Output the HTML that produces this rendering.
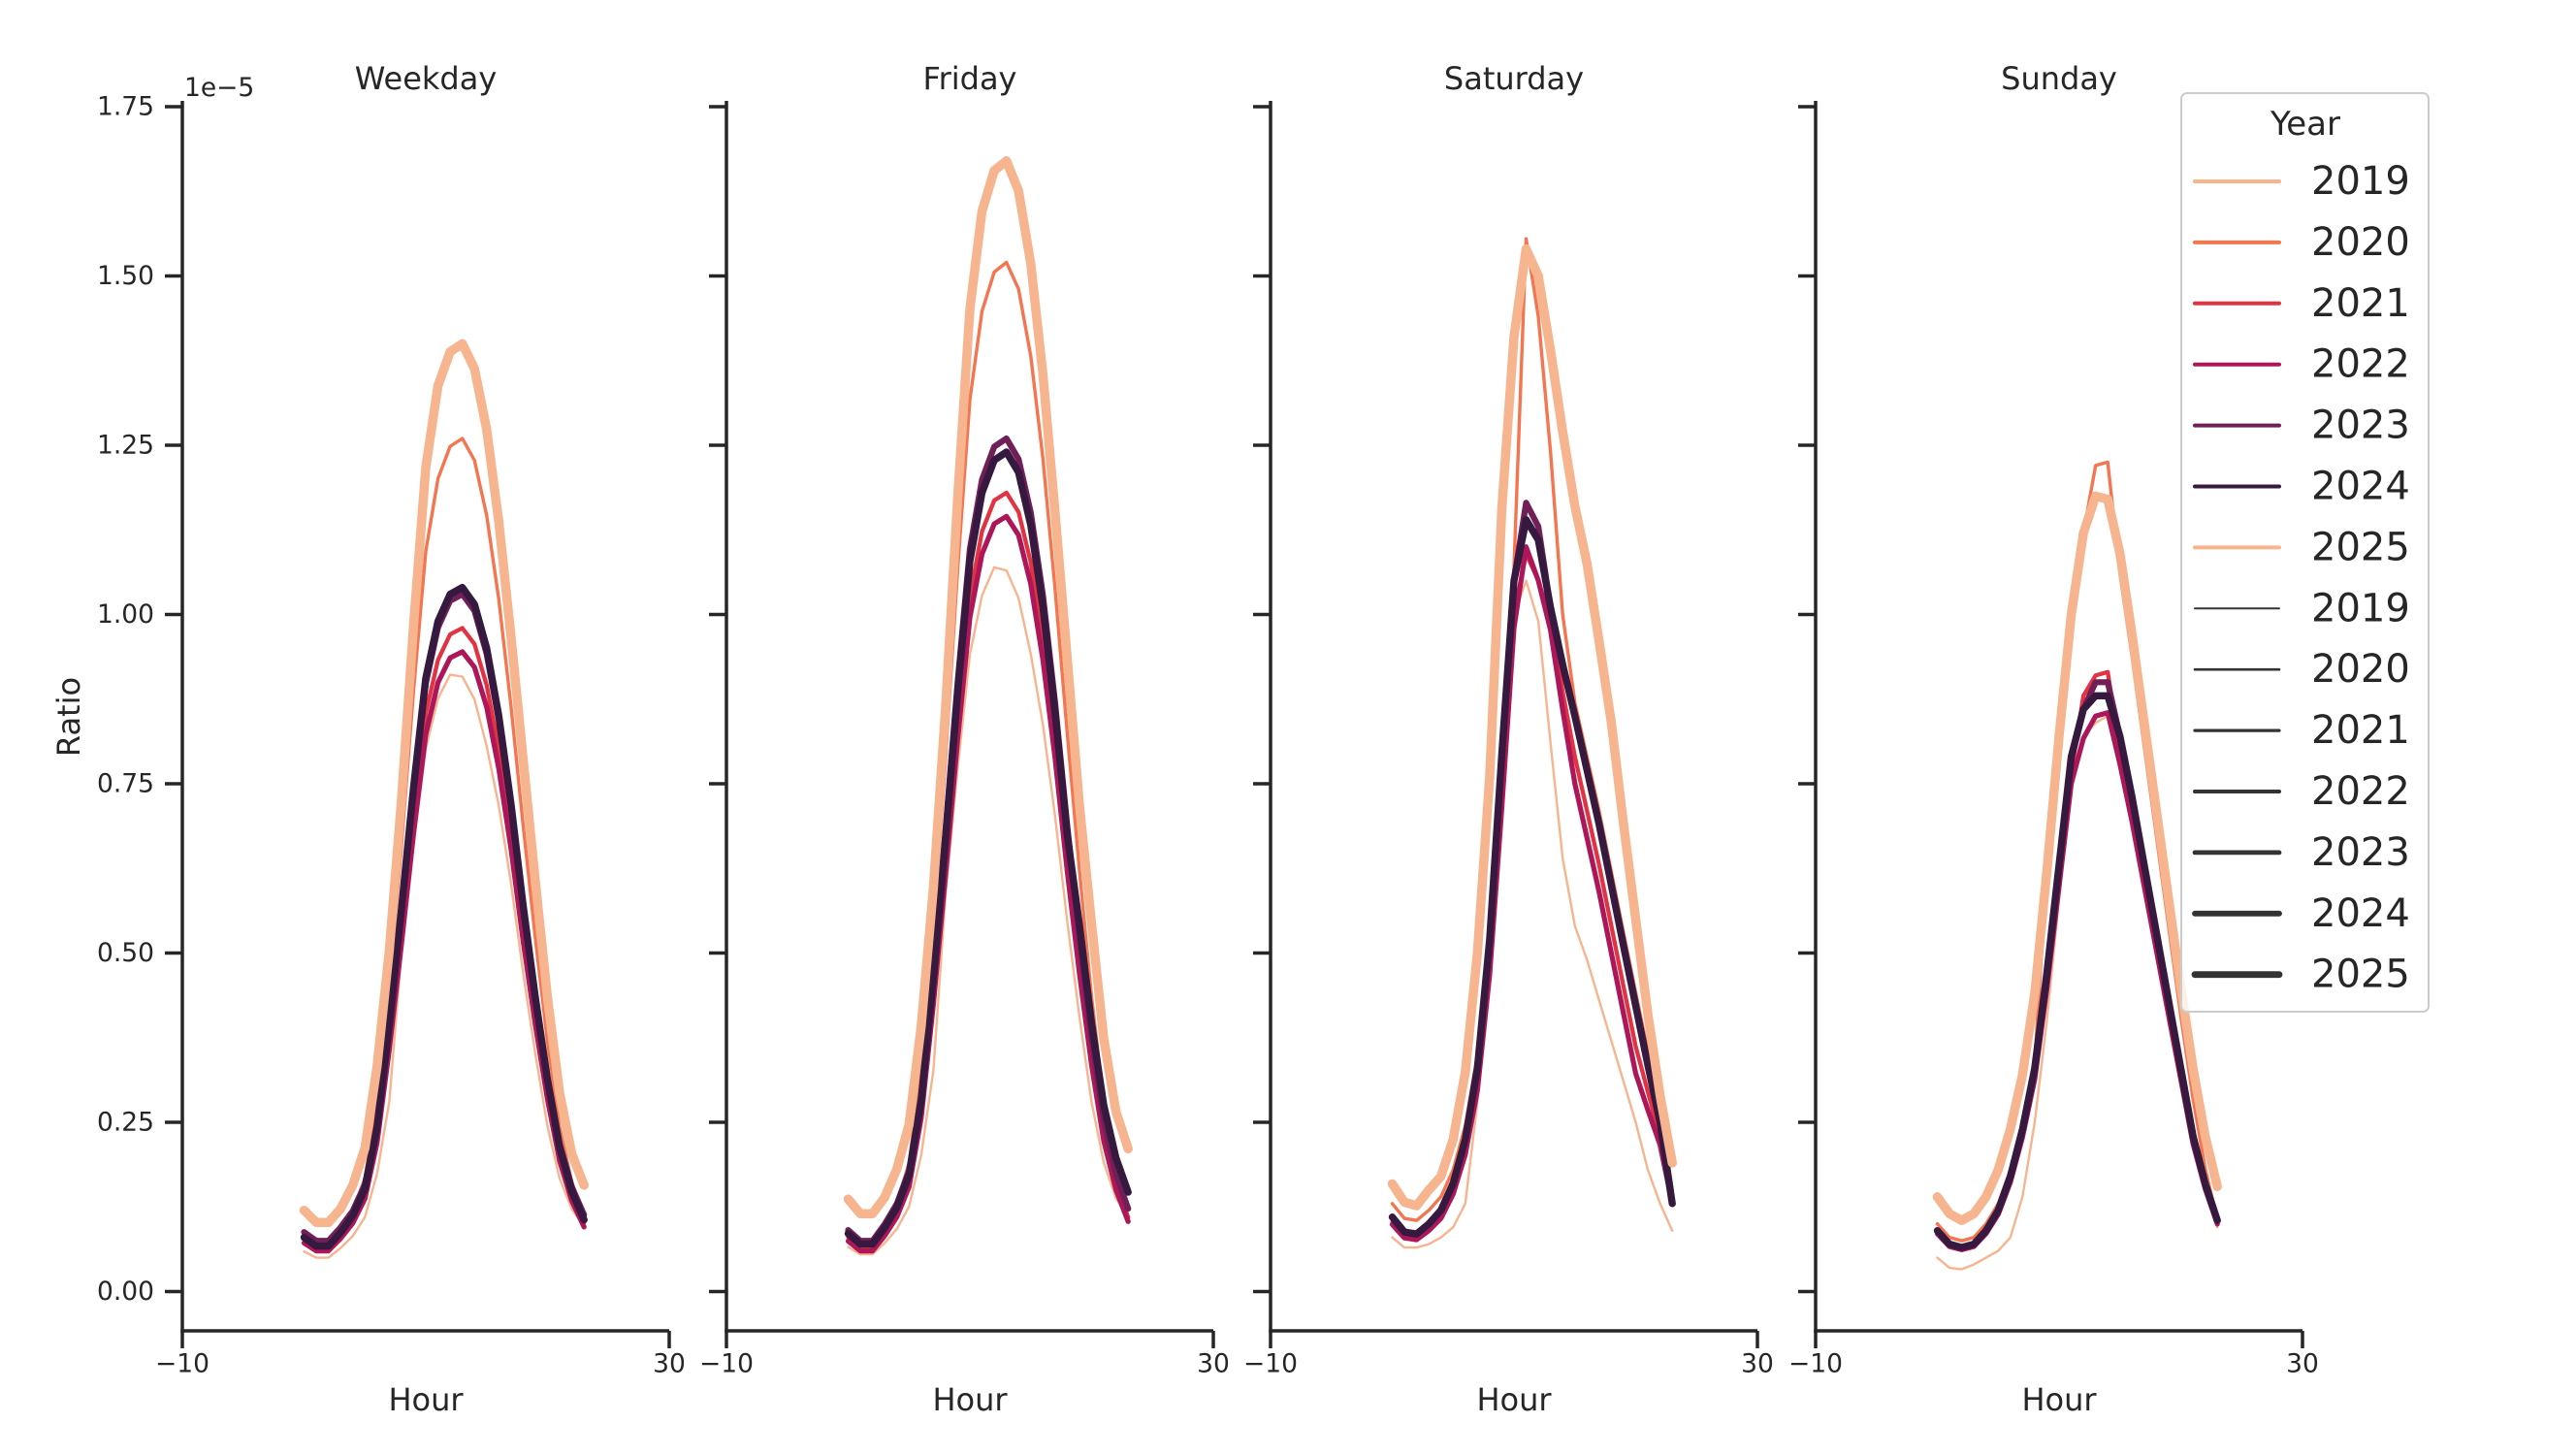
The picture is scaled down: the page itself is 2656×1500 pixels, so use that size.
<!DOCTYPE html>
<html><head><meta charset="utf-8">
<style>
html,body{margin:0;padding:0;background:#fff;}
svg{display:block;}
text{font-family:"DejaVu Sans","Liberation Sans",sans-serif;fill:#262626;}
</style></head>
<body>
<svg id="s" width="2656" height="1500" viewBox="0 0 2656 1500" xmlns="http://www.w3.org/2000/svg"></svg>
<script>
const X0=[188,749,1310,1872];
const hx=(p,h)=>X0[p]+(h+10)*12.55;
const vy=v=>1331.5-v*698;
const C=['#f6b48f','#f37651','#e13342','#ad1759','#701f57','#35193e','#f6b48f'];
const W=[2.4,3.4,4.3,5.2,6.2,7.4,9.5];
function norm(a){const mn=Math.min(...a),mx=Math.max(...a);return a.map(v=>(v-mn)/(mx-mn));}
function make(a,lo,hi){return norm(a).map(g=>lo+(hi-lo)*g);}
function avg(a,b){const na=norm(a),nb=norm(b);return na.map((v,i)=>(v+nb[i])/2);}
const taper=(i)=>i<=12?0:i<15?(i-12)/3:i<=20?1:(23-i)/3*0.6+0.4*(23-i)/3;
// Weekday
const Dwd=[0.080,0.067,0.067,0.087,0.112,0.152,0.243,0.394,0.565,0.746,0.906,0.99,1.03,1.04,1.015,0.95,0.85,0.72,0.57,0.434,0.313,0.213,0.148,0.106];
const Pwd=[0.12,0.102,0.102,0.122,0.157,0.212,0.333,0.504,0.725,0.986,1.217,1.338,1.388,1.40,1.363,1.273,1.137,0.967,0.786,0.605,0.434,0.293,0.203,0.157];
const Awd=avg(Dwd,Pwd);
const thinShape=Dwd.map((v,i)=>i<8?v*0.8:v);
const wd=[make(thinShape,0.05,0.92).map((v,i)=>v-0.035*taper(i)),make(Awd,0.065,1.26),make(Dwd,0.065,0.98),make(Dwd,0.06,0.945),make(Dwd,0.075,1.03),Dwd,Pwd];
// Friday
const fr=[make(thinShape,0.055,1.08).map((v,i)=>v-0.045*taper(i)),make(Awd,0.065,1.52),make(Dwd,0.065,1.18),make(Dwd,0.06,1.145),make(Dwd,0.075,1.26),make(Dwd,0.07,1.24).map((v,i)=>i>18?v+0.03:v),make(Pwd,0.115,1.67).map((v,i)=>i>19?v+0.03:v)];
// Saturday
const Dsa=[0.11,0.088,0.085,0.10,0.12,0.16,0.225,0.33,0.52,0.795,1.05,1.14,1.11,1.01,0.926,0.85,0.77,0.69,0.60,0.51,0.422,0.335,0.25,0.13];
const Psa=[0.159,0.132,0.127,0.15,0.17,0.225,0.324,0.50,0.76,1.157,1.41,1.54,1.50,1.39,1.27,1.16,1.075,0.96,0.84,0.69,0.55,0.41,0.29,0.19];
const sa=[
 [0.08,0.065,0.065,0.07,0.08,0.095,0.13,0.28,0.55,0.80,1.0,1.05,0.99,0.81,0.64,0.54,0.49,0.43,0.37,0.31,0.25,0.18,0.13,0.09],
 Dsa.map((v,i)=>i===11?1.555:i===12?1.44:i===13?1.24:i===14?1.0:i===15?0.87:v+0.02),
 Dsa.map((v,i)=>i<10?v*0.93:i===10?1.0:i===11?1.09:i===12?1.05:v-0.06*taper(i)),
 Dsa.map((v,i)=>i<10?v*0.9:i===10?0.98:i===11?1.10:i===12?1.05:v-0.10*taper(i)),
 Dsa.map((v,i)=>i===11?1.165:i===12?1.13:v),
 Dsa,Psa];
// Sunday
const Dsu=[0.09,0.07,0.065,0.07,0.09,0.12,0.17,0.24,0.33,0.47,0.63,0.79,0.86,0.88,0.88,0.82,0.73,0.63,0.53,0.43,0.33,0.23,0.16,0.105];
const Psu=[0.14,0.115,0.105,0.115,0.14,0.18,0.24,0.32,0.44,0.62,0.82,1.0,1.12,1.175,1.17,1.09,0.97,0.84,0.71,0.58,0.45,0.33,0.23,0.155];
const su=[
 [0.05,0.035,0.033,0.04,0.05,0.06,0.08,0.14,0.25,0.40,0.58,0.74,0.82,0.84,0.85,0.79,0.71,0.61,0.51,0.41,0.31,0.22,0.15,0.095],
 Psu.map((v,i)=>i<9?Dsu[i]+0.01:i===13?1.22:i===14?1.225:i>=15?v-0.03-0.02*(i-15)/8:v),
 Dsu.map((v,i)=>i===13?0.91:i===14?0.915:i===12?0.88:v*0.97),
 Dsu.map((v,i)=>i===13?0.85:i===14?0.855:v*0.95),
 Dsu.map((v,i)=>i===13?0.9:i===14?0.9:v),
 Dsu,Psu];
const D=[wd,fr,sa,su];
const titles=['Weekday','Friday','Saturday','Sunday'];
let o='';
const ax='#262626';
for(let p=0;p<4;p++){
  const x=X0[p];
  o+=`<line x1="${x}" y1="104" x2="${x}" y2="1373.7" stroke="${ax}" stroke-width="3.5"/>`;
  o+=`<line x1="${x-1.7}" y1="1372" x2="${x+502}" y2="1372" stroke="${ax}" stroke-width="3.5"/>`;
  for(let k=0;k<8;k++){const y=vy(k*0.25);o+=`<line x1="${x-18}" y1="${y}" x2="${x}" y2="${y}" stroke="${ax}" stroke-width="3.5"/>`;
    if(p===0)o+=`<text x="159" y="${y}" font-size="26.5" text-anchor="end" dominant-baseline="central">${(k*0.25).toFixed(2)}</text>`;}
  for(const xx of [x,x+502]){o+=`<line x1="${xx}" y1="1372" x2="${xx}" y2="1390" stroke="${ax}" stroke-width="3.5"/>`;}
  o+=`<text x="${x}" y="1406" font-size="26.5" text-anchor="middle" dominant-baseline="central">−10</text>`;
  o+=`<text x="${x+502}" y="1406" font-size="26.5" text-anchor="middle" dominant-baseline="central">30</text>`;
  o+=`<text x="${x+251}" y="1443" font-size="32" text-anchor="middle" dominant-baseline="central">Hour</text>`;
  o+=`<text x="${x+251}" y="81" font-size="32" text-anchor="middle" dominant-baseline="central">${titles[p]}</text>`;
  D[p].forEach((s,i)=>{
    const pts=s.map((v,h)=>hx(p,h).toFixed(1)+','+vy(v).toFixed(1)).join(' ');
    o+=`<polyline points="${pts}" fill="none" stroke="${C[i]}" stroke-width="${W[i]}" stroke-linejoin="round" stroke-linecap="round"/>`;
  });
}
o+=`<text x="190" y="99" font-size="26.5">1e−5</text>`;
o+=`<text x="71" y="739" font-size="32" text-anchor="middle" dominant-baseline="central" transform="rotate(-90 71 739)">Ratio</text>`;
// legend
o+=`<rect x="2249" y="96" width="255" height="947" rx="6" fill="#fff" fill-opacity="0.8" stroke="#cccccc" stroke-width="2"/>`;
o+=`<text x="2377" y="128" font-size="34" text-anchor="middle" dominant-baseline="central">Year</text>`;
const yrs=['2019','2020','2021','2022','2023','2024','2025'];
const GW=[2,2.6,3.2,4,4.8,5.8,6.8];
for(let i=0;i<14;i++){
  const y=187+62.9*i;
  const col=i<7?C[i]:'#333333';const w=i<7?4:GW[i-7];
  o+=`<line x1="2263" y1="${y}" x2="2350" y2="${y}" stroke="${col}" stroke-width="${w}" stroke-linecap="round"/>`;
  o+=`<text x="2383" y="${y}" font-size="40" dominant-baseline="central">${yrs[i%7]}</text>`;
}
document.getElementById('s').innerHTML=o;
</script>
</body></html>
